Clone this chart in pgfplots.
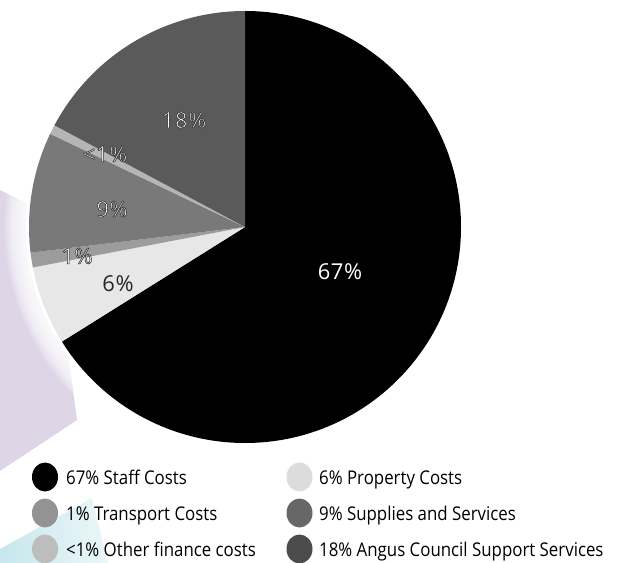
\documentclass[border=0pt]{standalone}
\usepackage{pgfplots}
\usepackage{pgfplotstable}
\pgfplotsset{compat=1.18}
\usepackage{fontspec}
\setmainfont{Open Sans}
\newfontfamily\labfont[LetterSpace=3]{Open Sans}
\newfontfamily\legfont[FakeStretch=0.89]{Open Sans}

\definecolor{propc}{HTML}{E6E7E6}
\definecolor{transc}{HTML}{9C9C9C}
\definecolor{supc}{HTML}{797979}
\definecolor{othc}{HTML}{B5B5B5}
\definecolor{angc}{HTML}{5A5A5A}
\definecolor{lpropc}{HTML}{DCDCDC}
\definecolor{ltransc}{HTML}{939393}
\definecolor{lsupc}{HTML}{676767}
\definecolor{lothc}{HTML}{BDBDBD}
\definecolor{langc}{HTML}{4B4B4B}
\definecolor{purp}{HTML}{DED6E7}
\definecolor{cyanbg}{HTML}{C7E7ED}

% pie data: share of total (per cent), drawn clockwise from 12 o'clock
\pgfplotstableread{
name value color
Staff 66.1 black
Property 5.9 propc
Transport 1.1 transc
Supplies 9.0 supc
Other 0.7 othc
Angus 17.2 angc
}\piedata

\newcommand\labsize{\labfont\fontsize{22}{25}\selectfont}
% white text with a thin dark outline (PDF text render mode 2: fill + stroke)
\newcommand\olabel[2]{%
  \path #1 node[text=white,font=\labsize]{\special{pdf:literal q 2 Tr 0.55 w 0.15 G 1 g}#2\special{pdf:literal Q}};}

\begin{document}
\begin{tikzpicture}
\useasboundingbox (0,0) rectangle (638bp,-563bp);
% background shapes
\fill[purp] (0bp,-190bp) -- (50bp,-215bp) -- (77bp,-420bp) -- (0bp,-471bp) -- cycle;
\shade[left color=cyanbg, right color=cyanbg!35] (0bp,-549bp) -- (92bp,-498bp) -- (108bp,-563bp) -- (0bp,-563bp) -- cycle;
% white glow around pie
\foreach \r in {240,238,...,220}{\fill[white,opacity=0.18] (245bp,-227bp) circle[radius=\r bp];}
\fill[white] (245bp,-227bp) circle[radius=219bp];

\begin{axis}[
  anchor=south west, at={(0bp,-563bp)},
  x=216bp, y=216bp,
  xmin=-1.13426, xmax=1.81944, ymin=-1.55556, ymax=1.05093,
  hide axis, clip=false]
\pgfplotsextra{%
  \gdef\cumangle{90}%
  \pgfplotstablegetrowsof{\piedata}%
  \pgfmathtruncatemacro\N{\pgfplotsretval-1}%
  \foreach \i in {0,...,\N}{%
    \pgfplotstablegetelem{\i}{value}\of\piedata \let\v\pgfplotsretval
    \pgfplotstablegetelem{\i}{color}\of\piedata \let\c\pgfplotsretval
    \pgfmathsetmacro\endang{\cumangle-3.6*\v}%
    \fill[fill=\c] (axis cs:0,0) -- ++(\cumangle:216bp) arc[start angle=\cumangle, end angle=\endang, radius=216bp] -- cycle;
    \xdef\cumangle{\endang}%
  }%
}
\end{axis}

% slice labels
\olabel{(184bp,-120bp)}{18\%}
\olabel{(105bp,-154bp)}{<1\%}
\olabel{(112bp,-209bp)}{9\%}
\olabel{(77bp,-256bp)}{1\%}
\path (118bp,-284bp) node[text=black!85,font=\labsize]{6\%};
\path (340bp,-272bp) node[text=white,font=\labsize]{67\%};

% legend
\tikzset{legtxt/.style={anchor=base west,inner sep=0pt,font=\legfont\fontsize{19}{22}\selectfont}}
\fill[black]   (45bp,-477bp) ellipse[x radius=13bp,y radius=14.5bp];
\fill[ltransc] (45bp,-513bp) ellipse[x radius=13bp,y radius=14.5bp];
\fill[lothc]   (45bp,-549bp) ellipse[x radius=13bp,y radius=14.5bp];
\fill[lpropc]  (299.5bp,-477bp) ellipse[x radius=13bp,y radius=14.5bp];
\fill[lsupc]   (299.5bp,-513bp) ellipse[x radius=13bp,y radius=14.5bp];
\fill[langc]   (299.5bp,-549bp) ellipse[x radius=13bp,y radius=14.5bp];
\node[legtxt] at (66bp,-484bp) {67\% Staff Costs};
\node[legtxt] at (66bp,-520bp) {1\% Transport Costs};
\node[legtxt] at (66bp,-556bp) {<1\% Other finance costs};
\node[legtxt] at (319bp,-484bp) {6\% Property Costs};
\node[legtxt] at (319bp,-520bp) {9\% Supplies and Services};
\node[legtxt] at (319bp,-556bp) {18\% Angus Council Support Services};
\end{tikzpicture}
\end{document}
